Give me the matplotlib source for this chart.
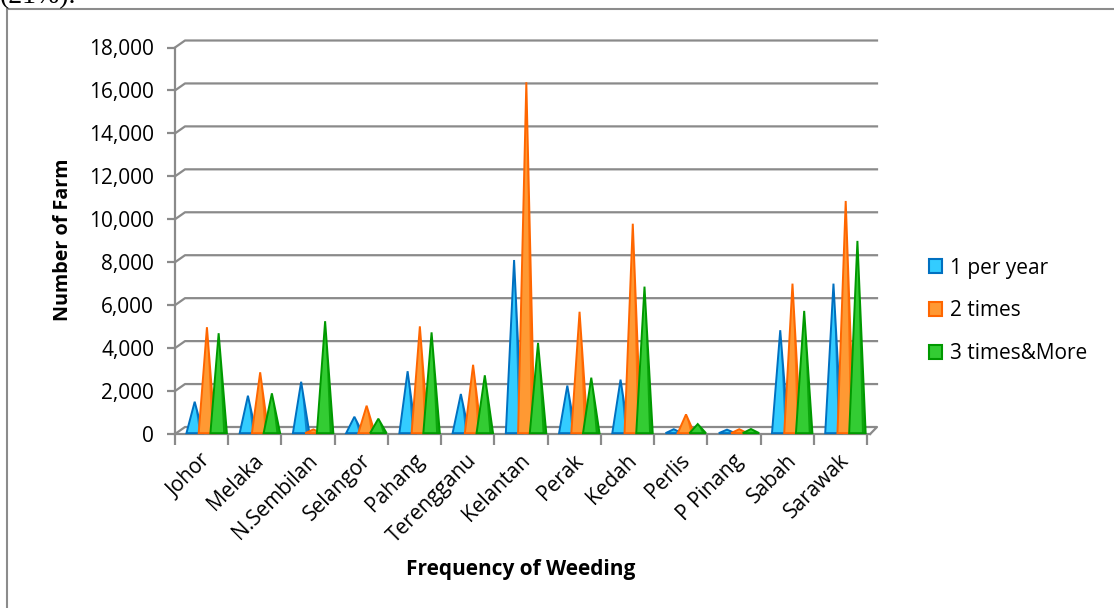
import matplotlib
matplotlib.use('Agg')
import matplotlib.pyplot as plt
import numpy as np
from matplotlib.patches import Polygon, Patch, Rectangle
import matplotlib.transforms as mtransforms

categories = ['Johor', 'Melaka', 'N.Sembilan', 'Selangor', 'Pahang', 'Terengganu',
              'Kelantan', 'Perak', 'Kedah', 'Perlis', 'P Pinang', 'Sabah', 'Sarawak']
series_names = ['1 per year', '2 times', '3 times&More']
one_per_year = [1340, 1620, 2270, 640, 2760, 1700, 7940, 2090, 2370, 60, 40, 4670, 6840]
two_times = [4810, 2710, 50, 1155, 4850, 3060, 16220, 5530, 9630, 750, 60, 6840, 10690]
three_more = [4530, 1730, 5090, 550, 4570, 2570, 4080, 2460, 6700, 300, 70, 5570, 8830]
y_ticks = list(range(0, 18001, 2000))

light_cols = ['#33CCFF', '#FF9933', '#33CC33']
dark_cols = ['#0070C0', '#FF6600', '#009900']

W, H = 1114, 608
fig = plt.figure(figsize=(W / 100, H / 100), dpi=100)
plt.rcParams['font.family'] = ['Open Sans', 'DejaVu Sans']

L, R, B, T = 175, 867, 434, 47.5
ax = fig.add_axes([L / W, 1 - B / H, (R - L) / W, (B - T) / H])
n = len(categories)
ax.set_xlim(-0.5, n - 0.5)
ax.set_ylim(0, 18000)
for sp in ax.spines.values():
    sp.set_visible(False)

grid_c = '#8A8A8A'
glw = 1.6
ddx = 10 / ((R - L) / n)
ddy = 7 * 18000 / (B - T)

# back-wall gridlines with 3D depth
for v in y_ticks[1:]:
    ax.plot([-0.5, -0.5 + ddx, n - 0.5 + ddx], [v, v + ddy, v + ddy],
            color=grid_c, lw=glw, clip_on=False, zorder=1)
# floor
ax.plot([-0.5, n - 0.5 + 0.06], [0, 0], color=grid_c, lw=glw, clip_on=False, zorder=1)
ax.plot([n - 0.5 + 0.06, n - 0.5 + ddx, -0.5 + ddx, -0.5], [0, ddy, ddy, 0],
        color=grid_c, lw=glw, clip_on=False, zorder=1)
# vertical axis
ax.plot([-0.5, -0.5], [0, 18000], color=grid_c, lw=glw, clip_on=False, zorder=1)

# cones (apex lifted by half the depth offset: cones stand mid-depth)
offsets = [-0.13, 0.10, 0.32]
hw = 0.155
series = [one_per_year, two_times, three_more]
for i in range(n):
    for s, vals in enumerate(series):
        xc = i + offsets[s]
        top = vals[i] + ddy * 0.5
        base_y = ddy * 0.12
        body = Polygon([(xc - hw, base_y), (xc + hw, base_y), (xc, top)], closed=True,
                       facecolor=light_cols[s], edgecolor=dark_cols[s], lw=1.4,
                       joinstyle='miter', zorder=3 + s, clip_on=False)
        ax.add_patch(body)
        side = Polygon([(xc + hw * 0.55, base_y), (xc + hw, base_y), (xc, top)], closed=True,
                       facecolor=dark_cols[s], edgecolor='none', alpha=0.75, zorder=3 + s,
                       clip_on=False)
        ax.add_patch(side)

# ticks
ax.set_yticks(y_ticks)
ax.set_yticklabels([f'{v:,}' for v in y_ticks])
ax.tick_params(axis='y', length=6, width=glw, color=grid_c, pad=9, labelsize=15)
ax.set_xticks(range(n))
ax.set_xticklabels(categories, rotation=45, ha='right', va='center', rotation_mode='anchor')
ax.tick_params(axis='x', which='major', length=0, pad=17, labelsize=15)
ax.set_xticks(np.arange(-0.5, n, 1), minor=True)
ax.tick_params(axis='x', which='minor', length=8, width=glw, color=grid_c)
for lab in ax.get_xticklabels():
    lab.set_transform(lab.get_transform() + mtransforms.ScaledTranslation(6 / 100, 0, fig.dpi_scale_trans))

# axis titles
fig.text(63 / W, 1 - 240 / H, 'Number of Farm', rotation=90, ha='center', va='center',
         fontsize=14.2, fontweight='bold')
fig.text(521 / W, 1 - 570 / H, 'Frequency of Weeding', ha='center', va='center',
         fontsize=15, fontweight='bold')

# legend
handles = [Patch(facecolor=light_cols[k], edgecolor=dark_cols[k], lw=1.5) for k in range(3)]
fig.legend(handles, series_names, loc='center left', bbox_to_anchor=(910 / W, 1 - 311 / H),
           frameon=False, fontsize=15, handlelength=0.65, handleheight=0.65,
           handletextpad=0.35, labelspacing=1.05)

# outer chart border
fig.add_artist(Rectangle((7 / W, -0.05), 1.2, (H - 9) / H + 0.05, transform=fig.transFigure,
                         fill=False, edgecolor='#8C8C8C', lw=1.5))
# paragraph text from the page above, clipped at the top edge as in the original
fig.text(0 / W, 1 - 3.5 / H, '(21%).', ha='left', va='baseline', fontsize=20,
         family='Liberation Serif')

fig.savefig('out.png', dpi=100)
